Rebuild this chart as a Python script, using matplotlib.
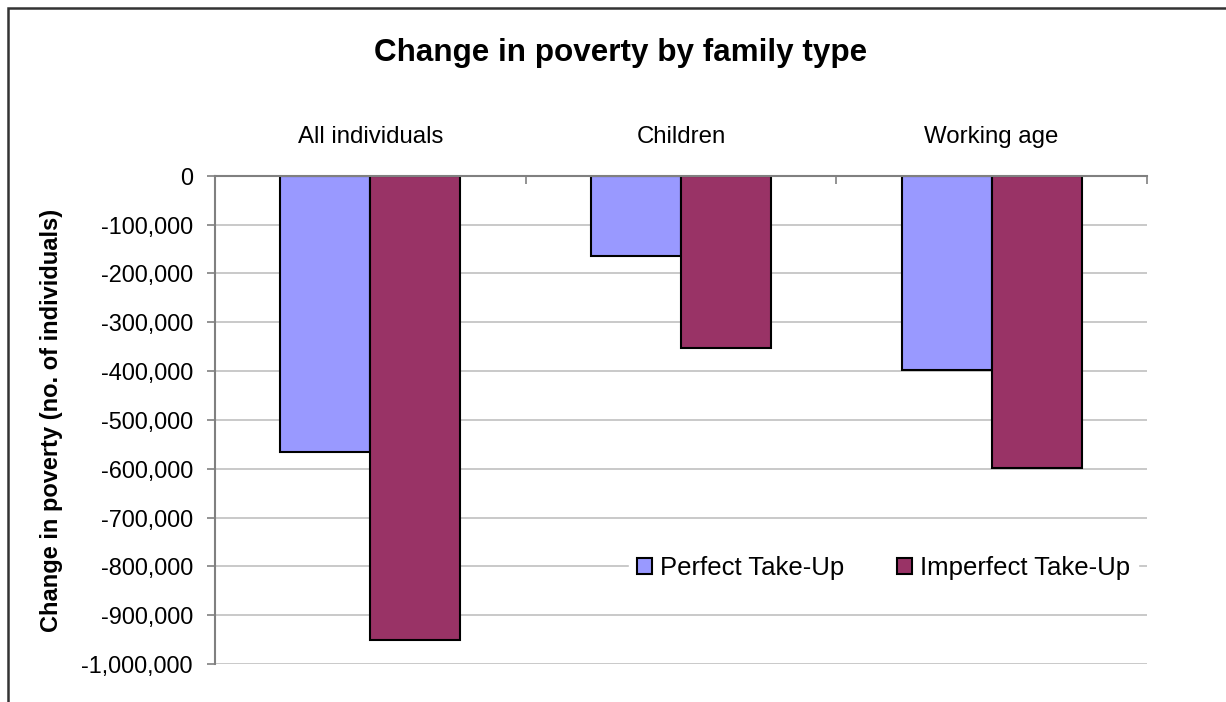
# change in poverty by family type - bar chart
import matplotlib.pyplot as plt
import matplotlib.patches as patches
from matplotlib.ticker import FuncFormatter
import numpy as np

plt.rcParams['font.family'] = ['Liberation Sans', 'DejaVu Sans']

# data
categories = ['All individuals', 'Children', 'Working age']
perfect = [-565000, -164000, -398000]
imperfect = [-950000, -353000, -598000]
series_names = ['Perfect Take-Up', 'Imperfect Take-Up']
y_ticks = list(range(0, -1000001, -100000))

W, H = 1226, 702
fig = plt.figure(figsize=(W / 100, H / 100), dpi=100)

# axes placed to match the reference pixel box
left, right, top, bottom = 215, 1147, 175.7, 664
ax = fig.add_axes([left / W, 1 - bottom / H, (right - left) / W, (bottom - top) / H])

x = np.arange(len(categories))
bw = 0.29
ax.bar(x - bw / 2, perfect, bw, color='#9999FF', edgecolor='black', linewidth=1.5,
       label=series_names[0], zorder=3)
ax.bar(x + bw / 2, imperfect, bw, color='#993366', edgecolor='black', linewidth=1.5,
       label=series_names[1], zorder=3)

ax.set_xlim(-0.5, len(categories) - 0.5)
ax.set_ylim(-1000000, 0)
ax.set_yticks(y_ticks)
ax.yaxis.set_major_formatter(FuncFormatter(lambda v, p: '0' if v == 0 else '{:,.0f}'.format(v)))
ax.grid(axis='y', color='#c0c0c0', linewidth=1.2, zorder=0)

# category labels sit above the top (zero) axis
ax.xaxis.tick_top()
ax.set_xticks(x)
ax.set_xticklabels(categories)
ax.set_xticks(np.arange(-0.5, len(categories), 1), minor=True)
ax.tick_params(axis='x', which='major', length=0, pad=20, labelsize=17.3)
ax.tick_params(axis='x', which='minor', direction='in', length=6, width=1.2, color='#808080')
ax.tick_params(axis='y', which='major', length=6, width=1.2, color='#808080', pad=10, labelsize=16.9)

for side in ['right', 'bottom']:
    ax.spines[side].set_visible(False)
for side in ['left', 'top']:
    ax.spines[side].set_color('#808080')
    ax.spines[side].set_linewidth(1.5)
    ax.spines[side].set_zorder(4)

# legend in the lower right without frame, white background
leg = ax.legend(loc='center right', bbox_to_anchor=(1.004, 0.196), ncol=2, frameon=True,
                fontsize=18.5, handlelength=0.6, handleheight=0.6, handletextpad=0.3,
                columnspacing=2.05, borderpad=0.3, fancybox=False)
leg.get_frame().set_edgecolor('white')
leg.get_frame().set_facecolor('white')
leg.get_frame().set_alpha(1)
for h in leg.legend_handles:
    h.set_linewidth(1.5)

fig.text(621 / W, 1 - 53 / H, 'Change in poverty by family type', ha='center', va='center',
         fontsize=22.6, fontweight='bold')
fig.text(52 / W, 1 - 420 / H, 'Change in poverty (no. of individuals)', ha='center', va='center',
         rotation=90, fontsize=17, fontweight='bold')

# outer chart border
fig.patches.append(patches.Rectangle((8 / W, -0.1), 2, 1.1 - 8 / H, transform=fig.transFigure,
                                     fill=False, edgecolor='#333333', linewidth=1.8))

plt.savefig('out.png', dpi=100)
